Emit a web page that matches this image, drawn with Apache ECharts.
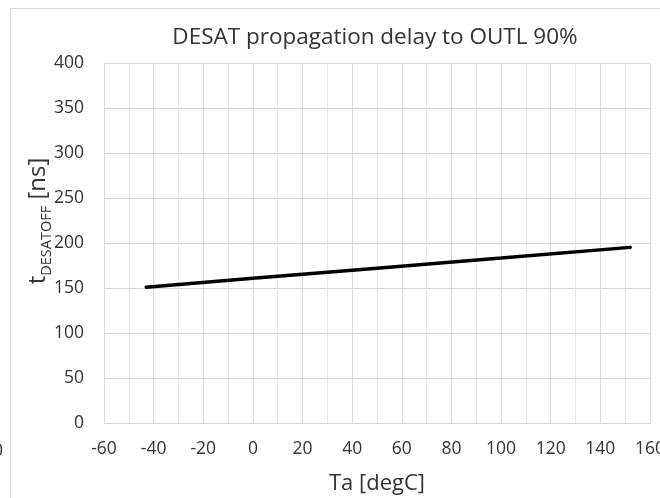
<!DOCTYPE html>
<html>
<head>
<meta charset="utf-8">
<script src="https://cdn.jsdelivr.net/npm/echarts@6/dist/echarts.min.js"></script>
<style>
  html, body { margin: 0; padding: 0; background: #ffffff; }
  #chart { width: 660px; height: 498px; }
</style>
</head>
<body>
<div id="chart"></div>
<script>
// ---- data ----
const temperatures = [-43, 0, 50, 100, 152];          // Ta [degC]
const delayValues  = [151.5, 161.3, 172.6, 183.8, 195.7]; // t_DESATOFF [ns]
const chartTitle = 'DESAT propagation delay to OUTL 90%';
const xAxisTitle = 'Ta [degC]';
const yAxisMain = 't';
const yAxisSub = 'DESATOFF';
const yAxisUnit = ' [ns]';

const FONT = '"Open Sans", "Liberation Sans", sans-serif';
const TXT = '#333333';

const chart = echarts.init(document.getElementById('chart'), null, { renderer: 'canvas' });
chart.setOption({
  animation: false,
  backgroundColor: '#ffffff',
  title: {
    text: chartTitle,
    left: 370, top: 21, textAlign: 'center',
    textStyle: { fontFamily: FONT, fontSize: 22.5, fontWeight: 'normal', color: TXT }
  },
  grid: { left: 104, right: 10, top: 63.5, bottom: 74.5, containLabel: false, outerBoundsMode: 'none' },
  xAxis: {
    type: 'value', min: -60, max: 160, interval: 20,
    name: xAxisTitle, nameLocation: 'middle', nameGap: 49,
    nameTextStyle: { fontFamily: FONT, fontSize: 22, color: TXT },
    axisLine: { show: true, lineStyle: { color: '#d9d9d9', width: 1 } },
    axisTick: { show: false },
    axisLabel: { fontFamily: FONT, fontSize: 17.5, color: TXT, margin: 17, hideOverlap: false },
    splitLine: { show: true, lineStyle: { color: '#d9d9d9', width: 1 } },
    minorTick: { show: false, splitNumber: 2 },
    minorSplitLine: { show: true, lineStyle: { color: '#e8e8e8', width: 1 } }
  },
  yAxis: {
    type: 'value', min: 0, max: 400, interval: 50,
    axisLine: { show: false },
    axisTick: { show: false },
    axisLabel: { fontFamily: FONT, fontSize: 17.5, color: TXT, margin: 20 },
    splitLine: { show: true, lineStyle: { color: '#d9d9d9', width: 1 } }
  },
  graphic: [
    { type: 'line', silent: true, shape: { x1: 10.5, y1: 8.5, x2: 10.5, y2: 498 }, style: { stroke: '#d9d9d9', lineWidth: 1 } },
    { type: 'line', silent: true, shape: { x1: 10.5, y1: 8.5, x2: 660, y2: 8.5 }, style: { stroke: '#d9d9d9', lineWidth: 1 } },
    { type: 'text', silent: true, x: 3, y: 451,
      style: { text: '160', align: 'right', verticalAlign: 'middle', fontFamily: FONT, fontSize: 17.5, fill: TXT } },
    { type: 'text', silent: true, x: 38, y: 221, rotation: Math.PI / 2,
      style: {
        text: '{m|' + yAxisMain + '}{s|' + yAxisSub + '}{m|' + yAxisUnit + '}',
        align: 'center', verticalAlign: 'middle',
        rich: {
          m: { fontFamily: FONT, fontSize: 24, fill: TXT, lineHeight: 32 },
          s: { fontFamily: FONT, fontSize: 14.5, fill: TXT, lineHeight: 32, verticalAlign: 'bottom' }
        }
      }
    }
  ],
  series: [{
    type: 'line',
    data: temperatures.map((t, i) => [t, delayValues[i]]),
    showSymbol: false,
    lineStyle: { color: '#000000', width: 3.5, cap: 'round' },
    itemStyle: { color: '#000000' }
  }]
});
</script>
</body>
</html>
